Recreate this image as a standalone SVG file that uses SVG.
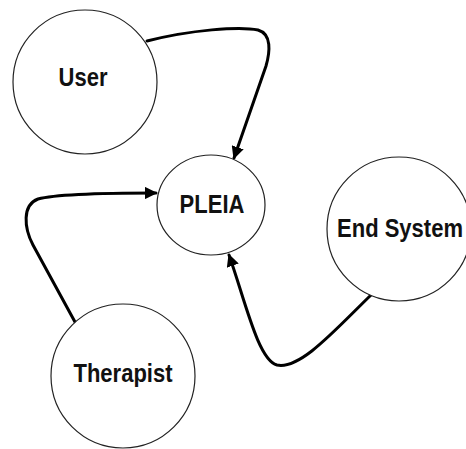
<svg xmlns="http://www.w3.org/2000/svg" width="466" height="449" viewBox="0 0 466 449">
<style>
.node{fill:#fff;stroke:#222;stroke-width:1.2}
.lbl{font-family:"Liberation Sans",Arial,sans-serif;font-weight:bold;font-size:22px;fill:#111;text-anchor:middle}
.edge{fill:none;stroke:#000;stroke-width:3;stroke-linecap:round}
</style>
<defs>
<marker id="arr" viewBox="0 0 10 10" refX="9" refY="5" markerWidth="4.2" markerHeight="4.2" orient="auto" markerUnits="strokeWidth">
<path d="M0,0 L10,5 L0,10 z" fill="#000"/>
</marker>
</defs>
<rect width="466" height="449" fill="#fff"/>
<g id="connectors">
<path class="edge" marker-end="url(#arr)" d="M147,41 C190,30 240,26 258,30 C272,34 270,52 266,66 L234,158"/>
<path class="edge" marker-end="url(#arr)" d="M75,322 L33,245 C24,228 22,205 38,199 C60,193 120,193 156,193"/>
<path class="edge" marker-end="url(#arr)" d="M371,295 C335,330 300,370 277,365 C258,360 245,300 229,255"/>
</g>
<g id="user"><circle class="node" cx="85" cy="82" r="72"/><text class="lbl" transform="translate(83,86) scale(1,1.13)">User</text></g>
<g id="pleia"><ellipse class="node" cx="211" cy="205" rx="54" ry="50"/><text class="lbl" transform="translate(212,213) scale(1,1.13)">PLEIA</text></g>
<g id="endsystem"><circle class="node" cx="399" cy="229" r="72"/><text class="lbl" transform="translate(400,237) scale(1,1.13)">End System</text></g>
<g id="therapist"><circle class="node" cx="123" cy="376" r="72"/><text class="lbl" transform="translate(123,382) scale(1,1.13)">Therapist</text></g>
</svg>
